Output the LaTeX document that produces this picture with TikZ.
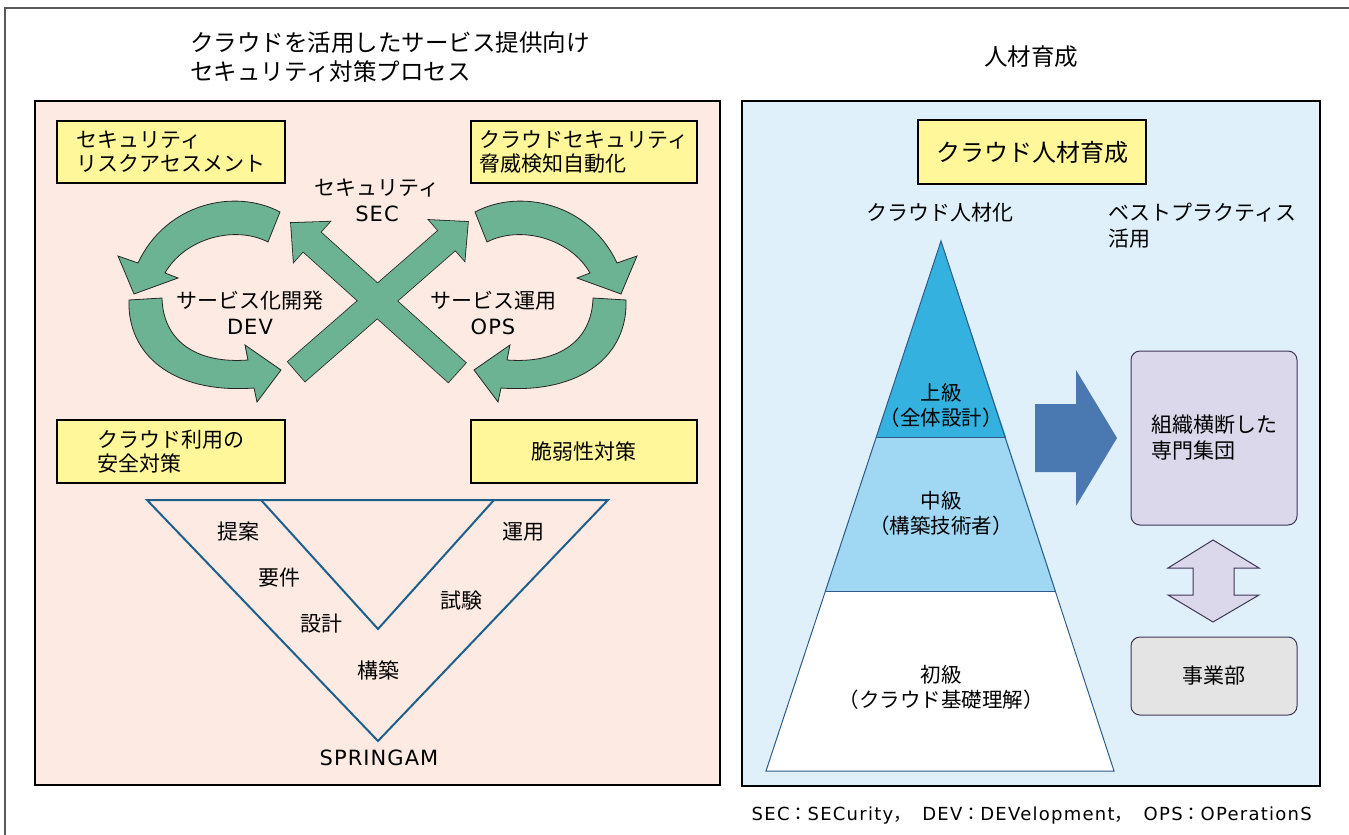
\documentclass[tikz,border=0pt]{standalone}
\usepackage{fontspec}
\setmainfont{Noto Sans CJK JP}
\newfontfamily\latinf[LetterSpace=5]{DejaVu Sans}
\newfontfamily\footf[LetterSpace=7]{DejaVu Sans}
\definecolor{pinkbg}{HTML}{FDEBE3}
\definecolor{bluebg}{HTML}{DFF0FA}
\definecolor{ybox}{HTML}{FFF799}
\definecolor{grn}{HTML}{6CB393}
\definecolor{vline}{HTML}{1F5F8B}
\definecolor{pyrA}{HTML}{35B1E0}
\definecolor{pyrB}{HTML}{A0D8F4}
\definecolor{pyrline}{HTML}{2E5C8A}
\definecolor{bigarrow}{HTML}{4A78B0}
\definecolor{lav}{HTML}{DCD8EC}
\definecolor{lavline}{HTML}{3F3656}
\definecolor{grybox}{HTML}{E4E4E4}
\begin{document}
\begin{tikzpicture}[x=1pt,y=-1pt,
  every node/.style={inner sep=0pt},
  tA/.style={font=\fontsize{21}{26}\selectfont, align=center},
  tT/.style={font=\fontsize{23.5}{29}\selectfont, align=left},
  tP/.style={font=\fontsize{20.5}{25}\selectfont, align=center},
  yelbox/.style={draw=black, line width=2.2pt, fill=ybox, minimum width=228pt, minimum height=62pt, align=left, font=\fontsize{21}{24}\selectfont},
  garrow/.style={fill=grn, draw=black!85, line width=0.8pt, line join=miter},
  gout/.style={draw=black!85, line width=1.6pt},
  gfill/.style={fill=grn},
  vst/.style={draw=vline, line width=2pt, line join=miter},
  pline/.style={draw=pyrline, line width=1pt},
  rbox/.style={rounded corners=9pt, draw=lavline, line width=1pt, font=\fontsize{21}{26}\selectfont, align=left}
]
\useasboundingbox (0,0) rectangle (1349,835);
\fill[white] (0,0) rectangle (1349,835);
\draw[line width=1.5pt, black!65] (5,835) -- (5,8) -- (1349,8);

% panels
\draw[line width=1.5pt, fill=pinkbg] (35,101) rectangle (720,785);
\draw[line width=1.5pt, fill=bluebg] (742,101) rectangle (1320,786);

% titles
\node[tT, anchor=west] (ttlL) at (190,57.5) {クラウドを活用したサービス提供向け\\セキュリティ対策プロセス};
\node[tT] (ttlR) at (1031,57) {人材育成};

% yellow boxes left
\node[yelbox] (yA) at (171,152) {セキュリティ\\リスクアセスメント};
\node[yelbox, minimum width=226pt] (yB) at (584,152) {クラウドセキュリティ\\脅威検知自動化};
\node[yelbox, minimum height=63pt] (yC) at (171,451.5) {クラウド利用の\\安全対策};
\node[yelbox, minimum width=226pt, minimum height=63pt] (yD) at (584,451.5) {脆弱性対策};

% curved arrows (left loop)
\path[garrow] (280,212) .. controls (235,188) and (166,203) .. (138,263) -- (118,256) -- (134,294) -- (178,278) -- (165,273) .. controls (185,238) and (235,225) .. (268,242) -- cycle;
\path[garrow] (129,300) .. controls (127,354) and (172,394) .. (254,388) -- (257,402) -- (281,370) -- (245,345) -- (248,360) .. controls (195,364) and (163,340) .. (162,298) -- cycle;
% right loop (mirror)
\begin{scope}[shift={(755,0)}, xscale=-1]
\path[garrow] (280,212) .. controls (235,188) and (166,203) .. (138,263) -- (118,256) -- (134,294) -- (178,278) -- (165,273) .. controls (185,238) and (235,225) .. (268,242) -- cycle;
\path[garrow] (129,300) .. controls (127,354) and (172,394) .. (254,388) -- (257,402) -- (281,370) -- (245,345) -- (248,360) .. controls (195,364) and (163,340) .. (162,298) -- cycle;
\end{scope}

% crossing arrows
\begin{scope}[shift={(296.5,371.5)}, rotate=41.1]
\path[gout] (0,13) -- (199.5,13) -- (199.5,27) -- (227.5,0) -- (199.5,-27) -- (199.5,-13) -- (0,-13) -- cycle;
\end{scope}
\begin{scope}[shift={(457,372.5)}, rotate=138]
\path[gout] (0,13) -- (195.4,13) -- (195.4,27) -- (223.4,0) -- (195.4,-27) -- (195.4,-13) -- (0,-13) -- cycle;
\end{scope}
\begin{scope}[shift={(296.5,371.5)}, rotate=41.1]
\path[gfill] (0,13) -- (199.5,13) -- (199.5,27) -- (227.5,0) -- (199.5,-27) -- (199.5,-13) -- (0,-13) -- cycle;
\end{scope}
\begin{scope}[shift={(457,372.5)}, rotate=138]
\path[gfill] (0,13) -- (195.4,13) -- (195.4,27) -- (223.4,0) -- (195.4,-27) -- (195.4,-13) -- (0,-13) -- cycle;
\end{scope}

% labels in loop
\node[tA] (sec) at (377,200) {セキュリティ\\{\latinf SEC}};
\node[tA] (dev) at (250,313) {サービス化開発\\{\latinf DEV}};
\node[tA] (ops) at (493,313) {サービス運用\\{\latinf OPS}};

% V model
\coordinate (vTL) at (147,500);
\coordinate (vTR) at (608,500);
\coordinate (vB) at (378,741);
\coordinate (iL) at (261,500);
\coordinate (iB) at (378,629);
\coordinate (iR) at (494,500);
\draw[vst] (vTL) -- (vTR) -- (vB) -- cycle;
\draw[vst] (iL) -- (iB) -- (iR);
\node[tA] (teian) at (238,532) {提案};
\node[tA] (youken) at (279,578) {要件};
\node[tA] (sekkei) at (321,624) {設計};
\node[tA] (kouchiku) at (378,670) {構築};
\node[tA] (unyou) at (523,532) {運用};
\node[tA] (shiken) at (461,601) {試験};
\node[tA] (spring) at (379,758) {\latinf SPRINGAM};

% right panel
\node[yelbox, minimum height=64pt, font=\fontsize{24}{28}\selectfont] (yE) at (1032,152) {クラウド人材育成};
\node[tA] (jinzaika) at (940,213) {クラウド人材化};
\node[tA, align=left, anchor=west] (best) at (1108,225.5) {ベストプラクティス\\活用};

% pyramid
\fill[pyrA] (941,241) -- (1006,437) -- (876,437) -- cycle;
\fill[pyrB] (876,437) -- (1006,437) -- (1056,591) -- (825,591) -- cycle;
\fill[white] (825,591) -- (1056,591) -- (1114,771) -- (766,771) -- cycle;
\draw[pline] (941,241) -- (1114,771) -- (766,771) -- cycle;
\draw[pline] (876,437) -- (1006,437);
\draw[pline] (825,591) -- (1056,591);
\node[tP] (joukyu) at (941,405.5) {上級\\（全体設計）};
\node[tP] (chukyu) at (941,513) {中級\\（構築技術者）};
\node[tP] (shokyu) at (941,687) {初級\\（クラウド基礎理解）};

% big arrow
\fill[bigarrow] (1035,404) -- (1076,404) -- (1076,370) -- (1117,438) -- (1076,506) -- (1076,472) -- (1035,472) -- cycle;

% boxes
\node[rbox, fill=lav, minimum width=166pt, minimum height=174pt] (senmon) at (1214,438) {組織横断した\\専門集団};
\node[rbox, fill=grybox, minimum width=166pt, minimum height=78pt] (jigyo) at (1214,676) {事業部};

% double arrow
\draw[fill=lav, draw=lavline, line width=1pt, line join=miter] (1213,540) -- (1259,568) -- (1234,568) -- (1234,595) -- (1259,595) -- (1213,622) -- (1168,595) -- (1193,595) -- (1193,568) -- (1168,568) -- cycle;

% footer
\node[font=\fontsize{18}{22}\selectfont, anchor=east] (foot) at (1312,816) {{\footf SEC}：{\footf SECurity}，\hspace{11pt}{\footf DEV}：{\footf DEVelopment}，\hspace{11pt}{\footf OPS}：{\footf OPerationS}};
\end{tikzpicture}
\end{document}
